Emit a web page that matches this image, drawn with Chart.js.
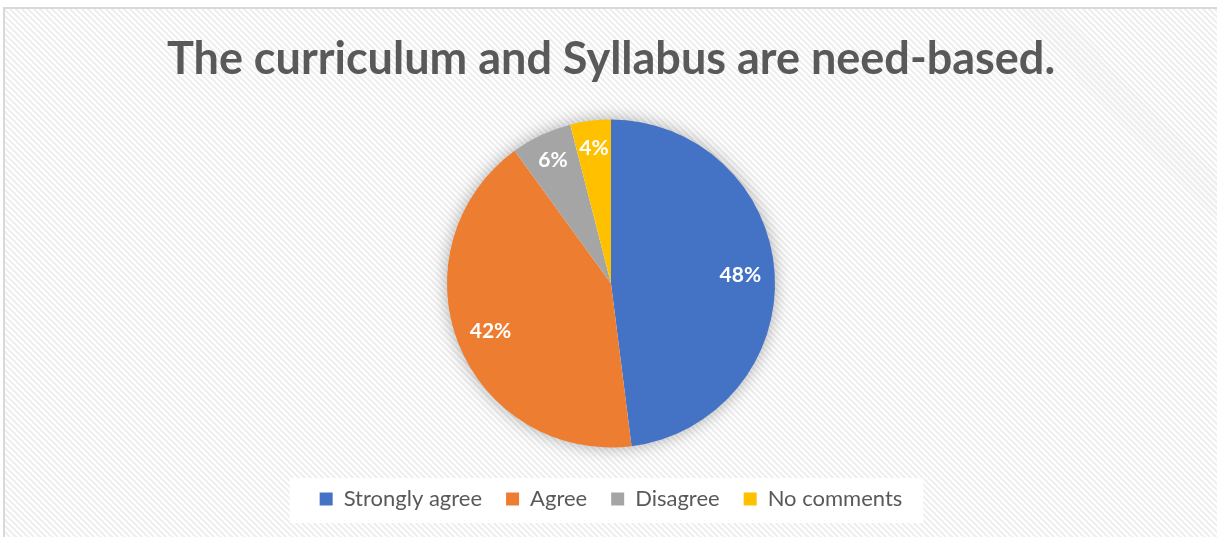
<!DOCTYPE html>
<html>
<head>
<meta charset="utf-8">
<script src="https://cdn.jsdelivr.net/npm/chart.js@4/dist/chart.umd.min.js"></script>
<style>
  html, body { margin: 0; padding: 0; background: #ffffff; width: 1217px; height: 537px; overflow: hidden; }
  #frame {
    position: absolute; left: 3px; top: 7px; width: 1230px; height: 545px;
    border-left: 2px solid #d9d9d9; border-top: 2px solid #d9d9d9;
    background: repeating-linear-gradient(45deg, #ffffff 0px, #ffffff 2.1px, #efefef 2.1px, #efefef 4.24px);
  }
  #wrap { position: absolute; left: 0; top: 0; width: 1217px; height: 537px; }
</style>
</head>
<body>
<div id="frame"></div>
<div id="wrap"><canvas id="c"></canvas></div>
<script>
const titleText = 'The curriculum and Syllabus are need-based.';
const categories = ['Strongly agree', 'Agree', 'Disagree', 'No comments'];
const percentValues = [48, 42, 6, 4];
const sliceColors = ['#4472C4', '#ED7D31', '#A5A5A5', '#FFC000'];

const shadowPlugin = {
  id: 'pieShadow',
  beforeDatasetsDraw(chart) {
    const arc = chart.getDatasetMeta(0).data[0];
    if (!arc) return;
    const { x, y, outerRadius } = arc.getProps(['x', 'y', 'outerRadius'], true);
    const ctx = chart.ctx;
    ctx.save();
    ctx.shadowColor = 'rgba(0,0,0,0.35)';
    ctx.shadowBlur = 18;
    ctx.fillStyle = '#ffffff';
    ctx.beginPath();
    ctx.arc(x, y, outerRadius - 1, 0, Math.PI * 2);
    ctx.fill();
    ctx.restore();
  }
};

const legendBoxPlugin = {
  id: 'legendBox',
  beforeDraw(chart) {
    const lg = chart.legend;
    if (!lg || !lg.legendHitBoxes || !lg.legendHitBoxes.length) return;
    const hb = lg.legendHitBoxes;
    let l = Infinity, r = -Infinity, cy = 0;
    hb.forEach(h => { l = Math.min(l, h.left); r = Math.max(r, h.left + h.width); cy = h.top + h.height / 2; });
    const ctx = chart.ctx;
    ctx.save();
    ctx.fillStyle = '#ffffff';
    ctx.fillRect(l - 30, cy - 21, (r - l) + 51, 45);
    ctx.restore();
  }
};

const labelPlugin = {
  id: 'sliceLabels',
  afterDatasetsDraw(chart, args, opts) {
    const meta = chart.getDatasetMeta(0);
    const ctx = chart.ctx;
    ctx.save();
    ctx.fillStyle = '#ffffff';
    ctx.font = 'bold 21px Lato';
    ctx.textAlign = 'center';
    ctx.textBaseline = 'middle';
    meta.data.forEach((arc, i) => {
      const p = arc.getProps(['x', 'y', 'startAngle', 'endAngle', 'outerRadius'], true);
      const mid = (p.startAngle + p.endAngle) / 2;
      const f = opts.radial[i];
      const lx = p.x + Math.cos(mid) * p.outerRadius * f;
      const ly = p.y + Math.sin(mid) * p.outerRadius * f;
      ctx.fillText(percentValues[i] + '%', lx, ly);
    });
    ctx.restore();
  }
};

new Chart(document.getElementById('c'), {
  type: 'pie',
  data: {
    labels: categories,
    datasets: [{ data: percentValues, backgroundColor: sliceColors, borderWidth: 0, hoverOffset: 0, radius: 164 }]
  },
  options: {
    responsive: true,
    maintainAspectRatio: false,
    animation: false,
    events: [],
    layout: { padding: { left: 5, right: 0, top: 0, bottom: 17 } },
    plugins: {
      title: {
        display: true,
        text: titleText,
        color: '#595959',
        font: { family: 'Lato', size: 45, weight: 'bold' },
        padding: { top: 32, bottom: 17 }
      },
      legend: {
        display: true,
        position: 'bottom',
        labels: {
          color: '#595959',
          font: { family: 'Lato', size: 22 },
          boxWidth: 13,
          boxHeight: 13,
          padding: 24
        }
      },
      tooltip: { enabled: false },
      sliceLabels: { radial: [0.79, 0.79, 0.83, 0.83] }
    }
  },
  plugins: [shadowPlugin, legendBoxPlugin, labelPlugin]
});
</script>
</body>
</html>
